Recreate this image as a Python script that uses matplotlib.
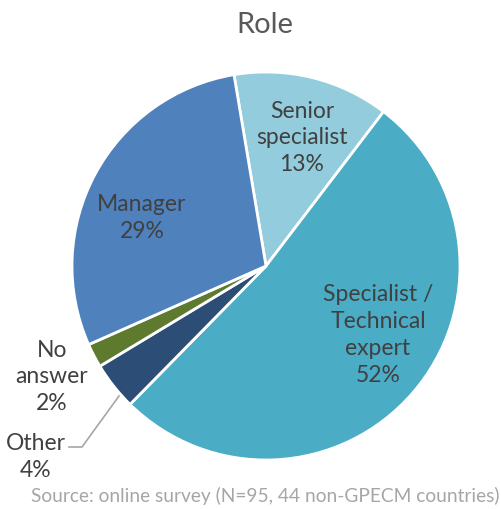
import matplotlib.pyplot as plt

plt.rcParams['font.family'] = ['Lato', 'DejaVu Sans']

# slices, clockwise from the first slice
roles = ["Senior\nspecialist", "Specialist /\nTechnical\nexpert", "Other", "No\nanswer", "Manager"]
shares = [13, 52, 4, 2, 29]
colors = ["#93CDDD", "#4BACC6", "#2C4D75", "#5E7A2E", "#4F81BD"]

W, H = 502, 510
fig = plt.figure(figsize=(W / 100, H / 100), dpi=100)
cx, cy, r = 266, 267, 194
ax = fig.add_axes([(cx - r) / W, (H - cy - r) / H, 2 * r / W, 2 * r / H])

wedges, _ = ax.pie(shares, colors=colors, startangle=99.5, counterclock=False,
                   radius=1, wedgeprops=dict(edgecolor="white", linewidth=2))
ax.set_xlim(-1, 1)
ax.set_ylim(-1, 1)
ax.set_aspect("equal")
ax.axis("off")


def px(x, y):
    # pixel position -> pie data coordinates
    return (x - cx) / r, (cy - y) / r


txt = dict(color="#404040", fontsize=16.5, ha="center", va="center",
           linespacing=1.35, clip_on=False)

# label anchor points (pixels) for each slice
label_pos = {0: (302, 138), 1: (378, 335), 2: (36, 457), 3: (52, 377), 4: (142, 218)}
for i, (x, y) in label_pos.items():
    ax.text(*px(x, y), f"{roles[i]}\n{shares[i]}%", **txt)

# leader line for the "Other" label
pts = [px(119, 397), px(82, 448), px(69, 448)]
ax.plot([p[0] for p in pts], [p[1] for p in pts], color="#A6A6A6", lw=1.2, clip_on=False)

fig.text(0.528, 1 - 25 / H, "Role", ha="center", va="center", fontsize=21, color="#595959")
fig.text(0.996, 1 - 496 / H, "Source: online survey (N=95, 44 non-GPECM countries)",
         ha="right", va="center", fontsize=13.8, color="#A6A6A6")

fig.savefig("out.png", dpi=100)
